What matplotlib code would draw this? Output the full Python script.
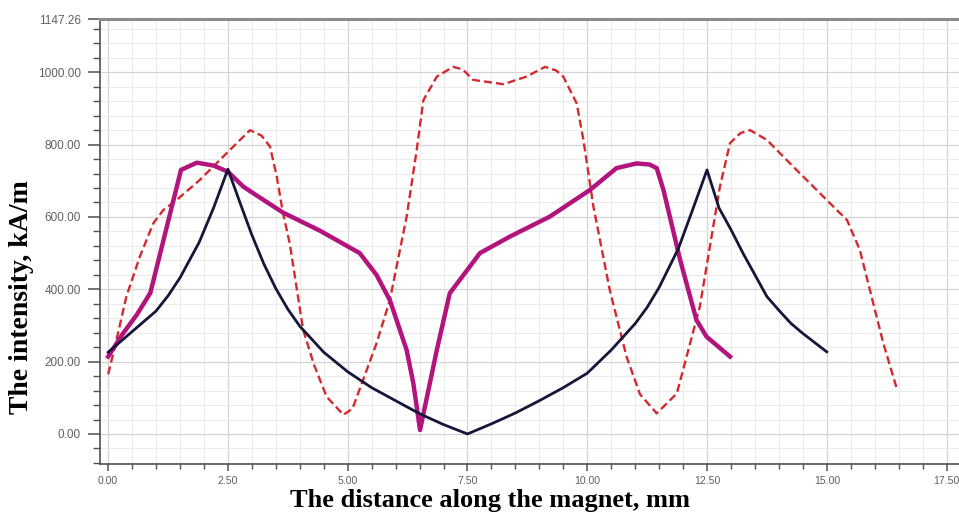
import matplotlib
matplotlib.use("Agg")
import matplotlib.pyplot as plt
from matplotlib.ticker import MultipleLocator, FixedLocator, FormatStrFormatter

# navy solid curve
navy_x = [0.0, 0.5, 1.0, 1.25, 1.5, 1.9, 2.2, 2.5, 2.75, 3.0, 3.25, 3.5, 3.75, 4.0, 4.5,
          5.0, 5.5, 6.0, 6.5, 7.0, 7.5, 8.0, 8.5, 9.0, 9.5, 10.0, 10.5, 11.0, 11.25,
          11.5, 11.9, 12.2, 12.5, 12.75, 13.0, 13.25, 13.5, 13.75, 14.0, 14.25, 14.5, 15.0]
navy_y = [226, 283, 340, 382, 432, 530, 625, 732, 640, 550, 470, 402, 345, 298, 226,
          172, 128, 92, 56, 26, 0, 28, 58, 92, 128, 168, 232, 305, 350,
          405, 512, 620, 730, 625, 565, 500, 440, 380, 342, 306, 278, 227]

# magenta thick curve
mag_x = [0.0, 0.31, 0.6, 0.88, 1.2, 1.52, 1.85, 2.2, 2.5, 2.82, 3.0, 3.65, 4.42,
         5.25, 5.6, 5.88, 6.23, 6.37, 6.51, 6.86, 7.13, 7.34, 7.76, 8.39, 9.22,
         10.06, 10.61, 11.03, 11.3, 11.45, 11.59, 11.94, 12.28, 12.49, 12.98]
mag_y = [214, 278, 330, 390, 560, 730, 750, 742, 725, 684, 668, 612, 562,
         500, 440, 370, 232, 140, 11, 232, 389, 426, 500, 546, 601,
         675, 735, 748, 745, 735, 675, 481, 315, 269, 214]

# red dashed curve
red_x = [0.0, 0.14, 0.38, 0.66, 0.94, 1.15, 1.43, 1.91, 2.54, 2.96, 3.2, 3.38, 3.52,
         3.65, 3.79, 4.07, 4.3, 4.56, 4.91, 5.1, 5.32, 5.6, 5.88, 6.23, 6.44, 6.58,
         6.86, 7.2, 7.4, 7.62, 8.25, 8.73, 9.12, 9.35, 9.5, 9.78, 9.92, 10.13, 10.47,
         10.82, 11.1, 11.45, 11.87, 12.35, 12.77, 12.98, 13.2, 13.4, 13.75, 14.3,
         14.93, 15.21, 15.42, 15.69, 15.9, 16.18, 16.46]
red_y = [165, 241, 380, 490, 582, 619, 647, 702, 785, 840, 825, 794, 711,
         610, 527, 288, 190, 103, 53, 70, 149, 250, 370, 601, 785, 923,
         988, 1015, 1008, 979, 967, 988, 1015, 1005, 988, 914, 813, 628, 398,
         214, 110, 57, 112, 352, 684, 804, 832, 840, 813, 739,
         656, 619, 592, 509, 398, 251, 126]

y_ticks = [0, 200, 400, 600, 800, 1000, 1147.26]
x_ticks = [0, 2.5, 5, 7.5, 10, 12.5, 15, 17.5]

fig = plt.figure(figsize=(9.59, 5.14), dpi=100)
ax = fig.add_axes([0.1043, 0.0973, 0.8957, 0.8657])

ax.plot(red_x, red_y, color="#d22a2e", lw=1.7, ls=(0, (3.4, 1.7)), zorder=3)
ax.plot(mag_x, mag_y, color="#b3137c", lw=3.2, solid_joinstyle="round", zorder=4)
ax.plot(navy_x, navy_y, color="#15163a", lw=2.0, zorder=5)

ax.set_xlim(-0.17, 17.76)
ax.set_ylim(-83, 1147.26)

ax.xaxis.set_major_locator(FixedLocator(x_ticks))
ax.xaxis.set_minor_locator(MultipleLocator(0.5))
ax.yaxis.set_major_locator(FixedLocator(y_ticks))
ax.yaxis.set_minor_locator(MultipleLocator(40))
ax.xaxis.set_major_formatter(FormatStrFormatter("%.2f"))
ax.yaxis.set_major_formatter(FormatStrFormatter("%.2f"))

ax.grid(which="major", color="#d4d4d4", lw=0.9)
ax.grid(which="minor", color="#ebebeb", lw=0.8)
ax.set_axisbelow(True)

ax.spines["right"].set_visible(False)
ax.spines["top"].set_color("#8c8c8c")
ax.spines["top"].set_linewidth(2.2)
ax.spines["left"].set_color("#505050")
ax.spines["left"].set_linewidth(1.2)
ax.spines["bottom"].set_color("#505050")
ax.spines["bottom"].set_linewidth(1.2)

ax.tick_params(axis="y", which="major", length=9, width=1.1, color="#505050",
               pad=5, labelsize=8.5, labelcolor="#606060")
ax.tick_params(axis="y", which="minor", length=5, width=1.0, color="#505050")
ax.tick_params(axis="x", which="major", length=5, width=1.1, color="#505050",
               pad=4, labelsize=7.6, labelcolor="#606060")
ax.tick_params(axis="x", which="minor", length=3.5, width=1.0, color="#505050")
for lab in ax.get_xticklabels() + ax.get_yticklabels():
    lab.set_fontfamily("Liberation Sans")

ax.set_xlabel("The distance along the magnet, mm", fontsize=19, fontweight="bold",
              fontfamily="Liberation Serif")
ax.xaxis.label.set_va("center")
ax.xaxis.set_label_coords(0.454, -0.083)
ax.set_ylabel("The intensity, kA/m", fontsize=20, fontweight="bold",
              fontfamily="Liberation Serif")
ax.yaxis.label.set_va("center")
ax.yaxis.set_label_coords(-0.091, 0.375)

fig.savefig("out.png", dpi=100)
